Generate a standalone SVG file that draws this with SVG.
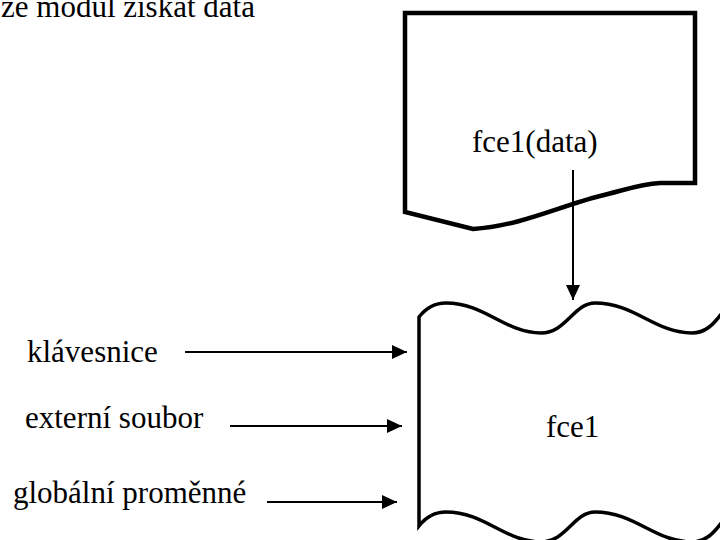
<svg xmlns="http://www.w3.org/2000/svg" width="720" height="540" viewBox="0 0 720 540">
<style>
.t{font-family:"Liberation Serif","Times New Roman",serif;font-size:31px;fill:#000}
.shape{fill:#fff;stroke:#000;stroke-linejoin:miter}
.conn{stroke:#000;stroke-width:2;fill:none}
</style>
<defs>
<marker id="ah" markerUnits="userSpaceOnUse" markerWidth="16" markerHeight="14" refX="15" refY="7" orient="auto">
<path d="M0,0 L15,7 L0,14 Z" fill="#000"/>
</marker>
</defs>
<rect width="720" height="540" fill="#fff"/>
<text class="t" x="1" y="17">že modul získat data</text>
<g id="doc">
<path class="shape" stroke-width="4.5" d="M405,13 L695,13 L695,183 L660,183 C640,184 625,190 600,196 C560,206 520,226 473,229 L405,212 Z"/>
<text class="t" x="472" y="152">fce1(data)</text>
</g>
<g id="fce1">
<path class="shape" stroke-width="3.5" d="M419,317 C426,308 434,303 446,303 C485,303 505,333 541,333 C566,333 574,303 595,303 C635,303 655,333 692,333 C705,333 713,325 722,313 L760,313 L760,560 L722,522 C713,534 705,542 692,542 C655,542 635,512 595,512 C574,512 566,542 541,542 C505,542 485,512 446,512 C434,512 426,517 419,526 Z"/>
<text class="t" x="546" y="437">fce1</text>
</g>
<g id="labels">
<text class="t" x="27" y="362">klávesnice</text>
<text class="t" x="25" y="428">externí soubor</text>
<text class="t" x="13" y="503">globální proměnné</text>
</g>
<g id="connectors">
<line class="conn" x1="573" y1="170" x2="573" y2="300" marker-end="url(#ah)"/>
<line class="conn" x1="185" y1="352" x2="407" y2="352" marker-end="url(#ah)"/>
<line class="conn" x1="230" y1="426" x2="402" y2="426" marker-end="url(#ah)"/>
<line class="conn" x1="267" y1="502" x2="397" y2="502" marker-end="url(#ah)"/>
</g>
</svg>
